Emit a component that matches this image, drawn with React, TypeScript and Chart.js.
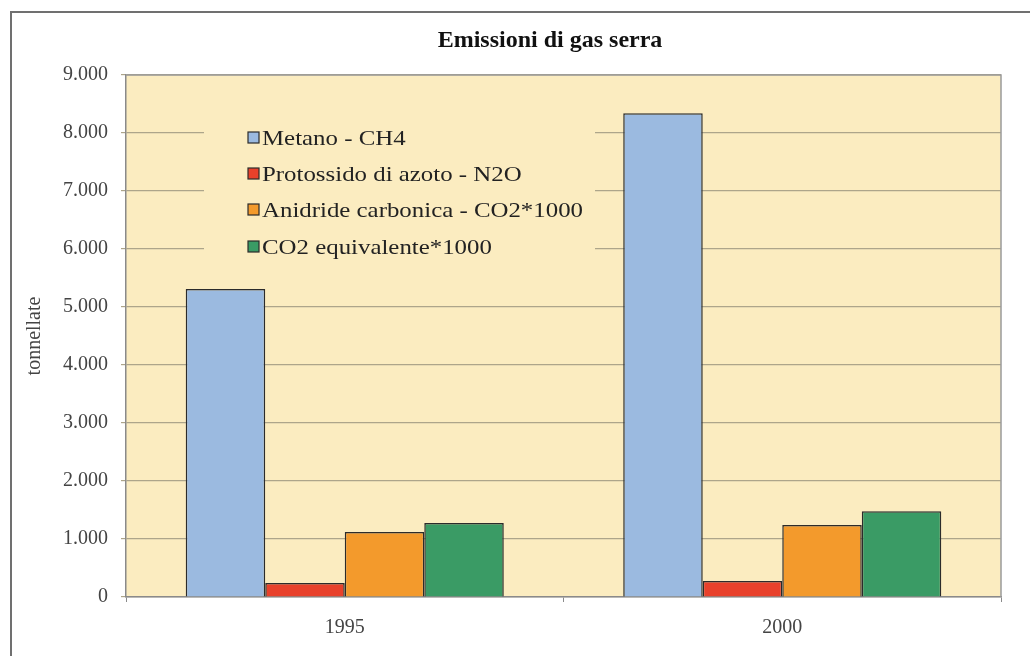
import React, { useEffect, useRef } from "react";
import { Chart, registerables } from "chart.js";

Chart.register(...registerables);

const title = "Emissioni di gas serra";
const yAxisTitle = "tonnellate";
const categories = ["1995", "2000"];
const seriesNames = [
  "Metano - CH4",
  "Protossido di azoto - N2O",
  "Anidride carbonica - CO2*1000",
  "CO2 equivalente*1000",
];
const metano = [5310, 8340];
const protossido = [240, 275];
const anidride = [1120, 1240];
const co2eq = [1275, 1480];
const seriesColors = ["#9BBAE0", "#E8412B", "#F39A2C", "#3A9B65"];
const yMin = 0;
const yMax = 9000;
const yStep = 1000;

const fmt = (v: number) => String(v).replace(/\B(?=(\d{3})+(?!\d))/g, ".");

const PLOT_BG = "#FBECC0";
const SERIF = "'Liberation Serif', 'Times New Roman', serif";

const decorPlugin = {
  id: "decor",
  beforeDraw(chart: any) {
    const { ctx, chartArea: a } = chart;
    ctx.save();
    ctx.fillStyle = "#ffffff";
    ctx.fillRect(0, 0, chart.width, chart.height);
    // outer frame (left & top visible)
    ctx.strokeStyle = "#707070";
    ctx.lineWidth = 2;
    ctx.beginPath();
    ctx.moveTo(11, chart.height + 5);
    ctx.lineTo(11, 12);
    ctx.lineTo(chart.width + 5, 12);
    ctx.stroke();
    // plot background
    ctx.fillStyle = PLOT_BG;
    ctx.fillRect(a.left, a.top, a.right - a.left, a.bottom - a.top);
    // title
    ctx.fillStyle = "#111";
    ctx.font = "bold 24px " + SERIF;
    ctx.textAlign = "center";
    ctx.textBaseline = "alphabetic";
    ctx.fillText(title, 550, 47);
    ctx.restore();
  },
  beforeDatasetsDraw(chart: any) {
    const { ctx, chartArea: a } = chart;
    ctx.save();
    // plot border right/top
    ctx.strokeStyle = "#9a9a9a";
    ctx.lineWidth = 1.5;
    ctx.beginPath();
    ctx.moveTo(a.left, a.top);
    ctx.lineTo(a.right, a.top);
    ctx.lineTo(a.right, a.bottom);
    ctx.stroke();
    // legend
    const font = "22px " + SERIF;
    ctx.font = font;
    const sx = 1.13;
    const boxX = 248;
    const textX = 262;
    const rows = [138, 174, 210, 247];
    let maxW = 0;
    chart.data.datasets.forEach((d: any) => {
      maxW = Math.max(maxW, ctx.measureText(d.label).width * sx);
    });
    ctx.fillStyle = PLOT_BG;
    ctx.fillRect(204, 112, textX + maxW + 12 - 204, 262 - 112);
    chart.data.datasets.forEach((d: any, i: number) => {
      const y = rows[i];
      ctx.fillStyle = d.backgroundColor;
      ctx.fillRect(boxX, y - 6, 11, 11);
      ctx.strokeStyle = "#2b2b2b";
      ctx.lineWidth = 1.2;
      ctx.strokeRect(boxX, y - 6, 11, 11);
      ctx.save();
      ctx.translate(textX, y);
      ctx.scale(sx, 1);
      ctx.fillStyle = "#222";
      ctx.textAlign = "left";
      ctx.textBaseline = "middle";
      ctx.font = font;
      ctx.fillText(d.label, 0, 1);
      ctx.restore();
    });
    ctx.restore();
  },
};

export default function App() {
  const ref = useRef<HTMLCanvasElement | null>(null);
  useEffect(() => {
    if (!ref.current) return;
    const seriesData = [metano, protossido, anidride, co2eq];
    const chart = new Chart(ref.current, {
      type: "bar",
      data: {
        labels: categories,
        datasets: seriesNames.map((name, i) => ({
          label: name,
          data: seriesData[i],
          backgroundColor: seriesColors[i],
          borderColor: "#2b2b2b",
          borderWidth: 1.5,
          categoryPercentage: 0.727,
          barPercentage: 1,
        })),
      },
      options: {
        animation: false,
        responsive: false,
        maintainAspectRatio: false,
        layout: { padding: { top: 75, right: 29, left: 0, bottom: 0 } },
        plugins: {
          legend: { display: false },
          title: { display: false },
          tooltip: { enabled: false },
        },
        scales: {
          x: {
            afterFit: (s: any) => {
              s.height = 59;
            },
            grid: {
              display: true,
              drawOnChartArea: false,
              drawTicks: true,
              tickLength: 5,
              color: "#8a8a8a",
              offset: true,
            },
            border: { display: true, color: "#8a8a8a", width: 1.5 },
            ticks: {
              color: "#444",
              padding: 14,
              font: { family: SERIF, size: 20 },
            },
          },
          y: {
            min: yMin,
            max: yMax,
            afterFit: (s: any) => {
              s.width = 126;
            },
            grid: {
              color: "#ADA58A",
              lineWidth: 1.2,
              tickLength: 5,
              drawTicks: true,
            },
            border: { display: true, color: "#8a8a8a", width: 1.5 },
            ticks: {
              stepSize: yStep,
              color: "#444",
              padding: 13,
              font: { family: SERIF, size: 20 },
              callback: (v: any) => fmt(Number(v)),
            },
            title: {
              display: true,
              text: yAxisTitle,
              color: "#444",
              padding: { top: 23, bottom: 0 },
              font: { family: SERIF, size: 20 },
            },
          },
        },
      },
      plugins: [decorPlugin],
    });
    return () => chart.destroy();
  }, []);
  return (
    <div style={{ position: "absolute", left: 0, top: 0, width: 1030, height: 656 }}>
      <canvas ref={ref} width={1030} height={656} style={{ display: "block", width: 1030, height: 656 }} />
    </div>
  );
}
